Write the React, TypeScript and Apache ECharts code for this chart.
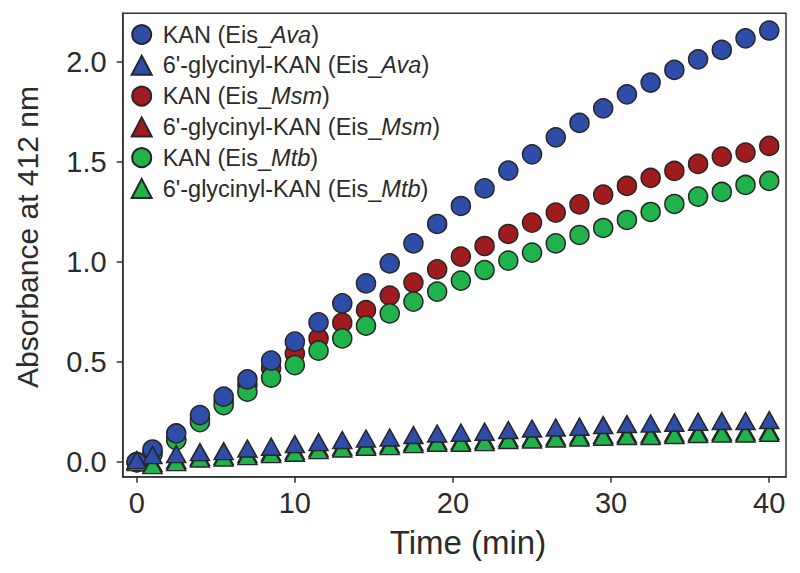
import React, { useEffect, useRef } from "react";
import * as echarts from "echarts";

const times = [0, 1, 2.5, 4, 5.5, 7, 8.5, 10, 11.5, 13, 14.5, 16, 17.5, 19, 20.5, 22, 23.5, 25, 26.5, 28, 29.5, 31, 32.5, 34, 35.5, 37, 38.5, 40];

const kanAva = [0.0, 0.063, 0.143, 0.235, 0.327, 0.413, 0.507, 0.602, 0.698, 0.793, 0.893, 0.993, 1.093, 1.19, 1.28, 1.368, 1.457, 1.538, 1.623, 1.695, 1.768, 1.838, 1.897, 1.96, 2.013, 2.06, 2.118, 2.157];
const kanMsm = [0.0, 0.05, 0.115, 0.215, 0.305, 0.385, 0.47, 0.543, 0.618, 0.697, 0.76, 0.832, 0.897, 0.963, 1.027, 1.08, 1.14, 1.197, 1.247, 1.288, 1.337, 1.38, 1.42, 1.455, 1.49, 1.527, 1.547, 1.58];
const kanMtb = [0.0, 0.04, 0.11, 0.2, 0.285, 0.352, 0.422, 0.485, 0.557, 0.618, 0.682, 0.743, 0.802, 0.852, 0.907, 0.96, 1.007, 1.047, 1.093, 1.135, 1.17, 1.21, 1.25, 1.29, 1.327, 1.35, 1.385, 1.405];
const glyAva = [0.01, 0.035, 0.04, 0.05, 0.055, 0.068, 0.077, 0.09, 0.1, 0.11, 0.118, 0.123, 0.135, 0.143, 0.147, 0.152, 0.16, 0.168, 0.173, 0.177, 0.185, 0.19, 0.193, 0.197, 0.202, 0.205, 0.205, 0.21];
const glyMsm = [0.005, -0.005, 0.01, 0.027, 0.032, 0.04, 0.05, 0.057, 0.07, 0.078, 0.087, 0.09, 0.1, 0.107, 0.107, 0.11, 0.12, 0.123, 0.128, 0.133, 0.137, 0.14, 0.14, 0.145, 0.15, 0.153, 0.153, 0.157];
const glyMtb = [0.0, -0.015, 0.0, 0.018, 0.023, 0.03, 0.04, 0.047, 0.06, 0.068, 0.077, 0.08, 0.09, 0.097, 0.097, 0.1, 0.11, 0.113, 0.118, 0.123, 0.127, 0.13, 0.13, 0.135, 0.14, 0.143, 0.143, 0.147];

const xTicks = [0, 10, 20, 30, 40];
const yTicks = [0, 0.5, 1.0, 1.5, 2.0];

const legendNames = [
  "KAN (Eis_Ava)",
  "6'-glycinyl-KAN (Eis_Ava)",
  "KAN (Eis_Msm)",
  "6'-glycinyl-KAN (Eis_Msm)",
  "KAN (Eis_Mtb)",
  "6'-glycinyl-KAN (Eis_Mtb)",
];

const BLUE = "#2E4DA8";
const RED = "#A01B1E";
const GREEN = "#20B24B";
const EDGE = "#262626";
const TXT = "#2b2b2b";
const FONT = "'Liberation Sans', Arial, Helvetica, sans-serif";
const LFS = 23.5;

function mk(name: string, ys: number[], color: string, tri: boolean, z: number) {
  return {
    name,
    type: "scatter",
    symbol: tri ? "triangle" : "circle",
    symbolSize: tri ? [19, 17] : 19,
    z,
    data: times.map((t, i) => [t, ys[i]]),
    itemStyle: { color, borderColor: EDGE, borderWidth: 1.5, opacity: 1 },
    emphasis: { disabled: true },
  };
}

export default function App() {
  const ref = useRef<HTMLDivElement>(null);
  useEffect(() => {
    if (!ref.current) return;
    const chart = echarts.init(ref.current, null, { renderer: "svg" });
    chart.setOption({
      animation: false,
      backgroundColor: "#ffffff",
      grid: {
        left: 122.7,
        right: 14,
        top: 13.3,
        bottom: 96.3,
        show: true,
        borderColor: "#333",
        borderWidth: 1.5,
        backgroundColor: "transparent",
      },
      legend: {
        data: legendNames,
        orient: "vertical",
        left: 130.7,
        top: 22.5,
        padding: 0,
        itemWidth: 20,
        itemHeight: 19,
        itemGap: 6.8,
        formatter: (name: string) => {
          const m = name.match(/^(.*Eis_)(\w+)(\))$/);
          if (!m) return name;
          return `{a|${m[1]}}{i|${m[2]}}{n|)}`;
        },
        textStyle: {
          fontFamily: FONT,
          fontSize: LFS,
          color: TXT,
          rich: {
            a: { fontFamily: FONT, fontSize: LFS, color: TXT, lineHeight: 20, padding: [0, 0, 0, 6] },
            n: { fontFamily: FONT, fontSize: LFS, color: TXT, lineHeight: 20 },
            i: { fontFamily: FONT, fontSize: LFS, color: TXT, fontStyle: "italic", lineHeight: 20 },
          },
        },
      },
      xAxis: {
        type: "value",
        min: -0.885,
        max: 41.06,
        splitLine: { show: false },
        axisLine: { show: true, onZero: false, lineStyle: { color: "#333", width: 1.5 } },
        axisTick: { show: true, length: 6, customValues: xTicks, lineStyle: { color: "#333", width: 1.5 } },
        axisLabel: {
          customValues: xTicks,
          margin: 12,
          fontFamily: FONT,
          fontSize: 29,
          color: TXT,
          formatter: (v: number) => String(Math.round(v)),
        },
      },
      yAxis: {
        type: "value",
        min: -0.073,
        max: 2.243,
        splitLine: { show: false },
        axisLine: { show: true, onZero: false, lineStyle: { color: "#333", width: 1.5 } },
        axisTick: { show: true, length: 6, customValues: yTicks, lineStyle: { color: "#333", width: 1.5 } },
        axisLabel: {
          customValues: yTicks,
          margin: 16,
          fontFamily: FONT,
          fontSize: 29,
          color: TXT,
          formatter: (v: number) => v.toFixed(1),
        },
      },
      graphic: [
        {
          type: "text",
          x: 27,
          y: 237,
          rotation: Math.PI / 2,
          style: {
            text: "Absorbance at 412 nm",
            font: `30px ${FONT}`,
            fill: TXT,
            textAlign: "center",
            textVerticalAlign: "middle",
          },
        },
        {
          type: "text",
          x: 468,
          y: 542,
          style: {
            text: "Time (min)",
            font: `33px ${FONT}`,
            fill: TXT,
            textAlign: "center",
            textVerticalAlign: "middle",
          },
        },
      ],
      series: [
        mk(legendNames[2], kanMsm, RED, false, 2),
        mk(legendNames[4], kanMtb, GREEN, false, 3),
        mk(legendNames[0], kanAva, BLUE, false, 4),
        mk(legendNames[3], glyMsm, RED, true, 5),
        mk(legendNames[5], glyMtb, GREEN, true, 6),
        mk(legendNames[1], glyAva, BLUE, true, 7),
      ],
    });
    return () => chart.dispose();
  }, []);
  return (
    <div
      ref={ref}
      style={{ position: "fixed", left: 0, top: 0, width: 800, height: 573, background: "#fff" }}
    />
  );
}
